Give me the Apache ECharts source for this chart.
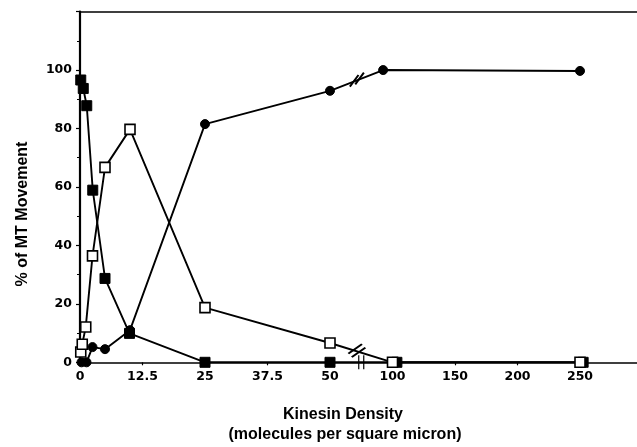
<!DOCTYPE html>
<html>
<head>
<meta charset="utf-8">
<script src="https://cdn.jsdelivr.net/npm/echarts@6/dist/echarts.min.js"></script>
<style>html,body{margin:0;padding:0;background:#fff;}#c{width:637px;height:447px;}</style>
</head>
<body>
<div id="c"></div>
<script>
// ---- data ----
var xTickLabels = ['0', '12.5', '25', '37.5', '50', '100', '150', '200', '250'];
var yTickLabels = ['0', '20', '40', '60', '80', '100'];

var filledSqX = [0.15, 0.65, 1.35, 2.55, 5, 9.9, 25, 50, 103.5, 252.5];
var filledSqY = [96.6, 93.7, 87.8, 58.9, 28.7, 9.9, 0, 0, 0, 0];

var openSqX = [0.15, 0.45, 1.15, 2.5, 5, 10, 25, 50, 100, 250];
var openSqY = [3.5, 6.2, 12.1, 36.4, 66.7, 79.7, 18.7, 6.6, 0, 0];

var circleX = [0.3, 1.3, 2.5, 5, 10, 25, 50, 92.5, 250];
var circleY = [0, 0, 5.2, 4.5, 11, 81.5, 92.9, 100, 99.7];

// broken axis: 0-50 in steps of 12.5, then 100-250 in steps of 50
function tx(x) {
  if (x <= 50) return x / 12.5;
  if (x < 100) return 4 + (x - 50) / 50;
  return 5 + (x - 100) / 50;
}
function pts(xs, ys) { return xs.map(function (x, i) { return [tx(x), ys[i]]; }); }

var FONT_T = 'Liberation Sans';
var chart = echarts.init(document.getElementById('c'), null, {renderer: 'canvas'});
var lineStyle = {color: '#000', width: 1.9};
var breakStyle = {color: 'rgba(0,0,0,0)', borderColor: '#000', borderWidth: 2};

chart.setOption({
  animation: false,
  backgroundColor: '#fff',
  grid: {left: 80, right: 0, top: 11.6, bottom: 84.7, containLabel: false},
  xAxis: [{
    type: 'value', min: 0, max: 8.912, interval: 1,
    axisLine: {show: true, onZero: false, lineStyle: {color: '#000', width: 1.6}},
    axisTick: {show: true, length: 3, lineStyle: {color: '#000', width: 1.2}},
    splitLine: {show: false},
    axisLabel: {
      margin: 8, color: '#000', fontFamily: 'DejaVu Sans', fontWeight: 'bold', fontSize: 12.5,
      showMaxLabel: false,
      formatter: function (v) { var s = xTickLabels[Math.round(v)]; return s === undefined ? '' : s; }
    }
  }, {
    type: 'value', min: 0, max: 8.912, position: 'top',
    axisLine: {show: true, onZero: false, lineStyle: {color: '#000', width: 1.6}},
    axisTick: {show: false}, axisLabel: {show: false}, splitLine: {show: false}
  }],
  yAxis: {
    type: 'value', min: 0, max: 120, interval: 20,
    axisLine: {show: true, lineStyle: {color: '#000', width: 2.2}},
    axisTick: {show: true, length: 4, lineStyle: {color: '#000', width: 1.2}},
    minorTick: {show: true, splitNumber: 2, length: 3, lineStyle: {color: '#000', width: 1}},
    splitLine: {show: false},
    axisLabel: {
      margin: 8, color: '#000', fontFamily: 'DejaVu Sans', fontWeight: 'bold', fontSize: 12.5,
      showMaxLabel: false,
      formatter: function (v) { var s = yTickLabels[Math.round(v / 20)]; return s === undefined ? '' : s; }
    }
  },
  series: [{
    name: 'filled squares', type: 'line', data: pts(filledSqX, filledSqY),
    symbol: 'rect', symbolSize: 10, showAllSymbol: true,
    itemStyle: {color: '#000', borderColor: '#000', borderWidth: 1},
    lineStyle: lineStyle, z: 2,
    markPoint: {
      silent: true, label: {show: false}, itemStyle: breakStyle,
      data: [{coord: [4.5, 0], symbol: 'path://M0,0L0,12M4,0L4,12', symbolSize: [5, 14]}]
    }
  }, {
    name: 'open squares', type: 'line', data: pts(openSqX, openSqY),
    symbol: 'rect', symbolSize: 10, showAllSymbol: true,
    itemStyle: {color: '#fff', borderColor: '#000', borderWidth: 1.6},
    lineStyle: lineStyle, z: 3,
    markPoint: {
      silent: true, label: {show: false}, itemStyle: breakStyle,
      data: [{coord: [4.43, 4.0], symbol: 'path://M0,8L12,0M3,11L15,3', symbolSize: [17, 13]}]
    }
  }, {
    name: 'circles', type: 'line', data: pts(circleX, circleY),
    symbol: 'circle', symbolSize: 9, showAllSymbol: true,
    itemStyle: {color: '#000', borderColor: '#000', borderWidth: 1},
    lineStyle: lineStyle, z: 4,
    markPoint: {
      silent: true, label: {show: false}, itemStyle: breakStyle,
      data: [{coord: [4.43, 96.7], symbol: 'path://M0,10L8,0M5,8L13,-2', symbolSize: [14, 14]}]
    }
  }],
  graphic: [{
    type: 'text', x: 23, y: 214, rotation: Math.PI / 2,
    style: {text: '% of MT Movement', font: 'bold 16px ' + FONT_T, fill: '#000', align: 'center', verticalAlign: 'middle'}
  }, {
    type: 'text', x: 343, y: 415,
    style: {text: 'Kinesin Density', font: 'bold 16px ' + FONT_T, fill: '#000', align: 'center', verticalAlign: 'middle'}
  }, {
    type: 'text', x: 345, y: 435,
    style: {text: '(molecules per square micron)', font: 'bold 16px ' + FONT_T, fill: '#000', align: 'center', verticalAlign: 'middle'}
  }]
});
</script>
</body>
</html>
